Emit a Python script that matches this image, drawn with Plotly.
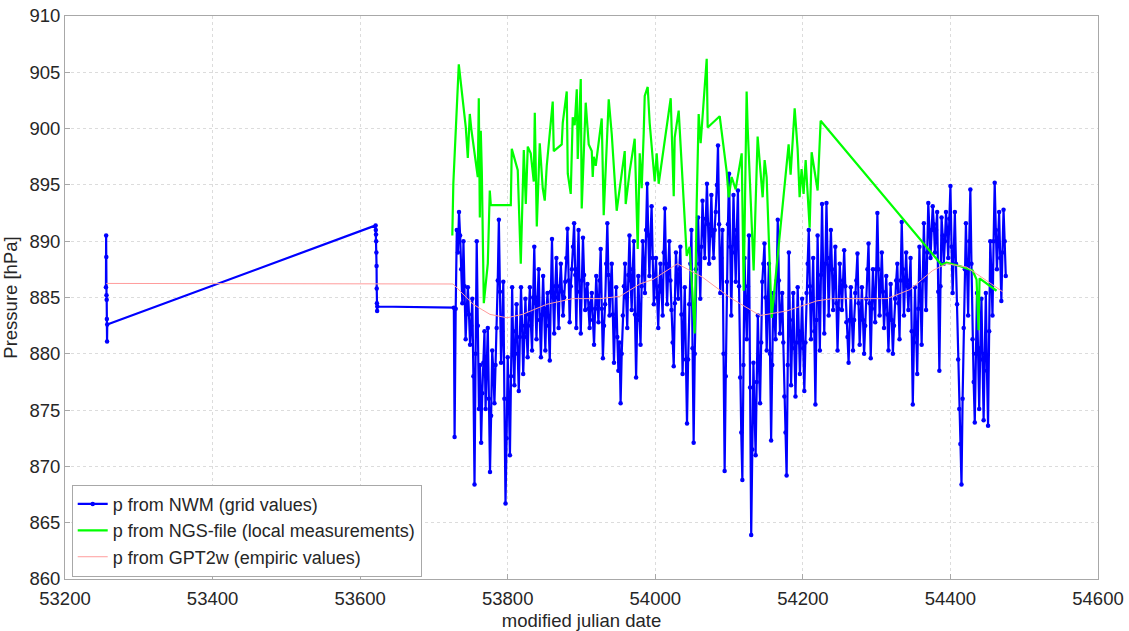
import numpy as np
import plotly.graph_objects as go

# ---------------- data ----------------
# NWM grid values: two early short clusters, then a dense series
nwm_early_mjd = [53255.5, 53255.75, 53256.0, 53256.25, 53256.5, 53256.75, 53257.0, 53257.25,
                 53621.0, 53621.25, 53621.5, 53621.75, 53622.0, 53622.25, 53622.5, 53622.75,
                 53623.0, 53623.25, 53727.0]
nwm_early_p = [885.9, 890.5, 888.6, 885.2, 884.8, 883.1, 881.1, 882.6,
               891.4, 891.0, 890.6, 890.0, 889.0, 887.8, 885.8, 884.5,
               883.8, 884.2, 884.1]

# dense part: values every 3 days from nwm_dense_start ...
nwm_dense_start = 53728.0
nwm_dense_step = 3.0
nwm_dense_p = [
    872.6, 891.0, 892.6, 887.5, 890.0, 881.3, 885.9, 880.8, 884.9, 868.4,
    890.0, 875.1, 872.1, 879.2, 875.1, 882.3, 869.5, 880.3, 875.6, 882.3,
    891.9, 879.2, 886.4, 866.7, 879.7, 871.0, 885.9, 877.2, 884.4, 876.7,
    885.9, 878.2, 884.9, 879.7, 885.9, 880.3, 889.5, 881.3, 887.5, 879.7,
    886.9, 880.3, 885.4, 879.4, 890.2, 881.8, 888.5, 882.3, 888.0, 883.4,
    886.4, 891.1, 882.8, 887.5, 891.6, 882.3, 891.0, 881.8, 890.3, 883.9,
    886.2, 882.3, 885.4, 880.8, 886.9, 882.8, 889.3, 879.6, 884.4, 891.6,
    883.4, 888.0, 879.2, 885.9, 878.5, 875.6, 883.4, 888.0, 882.3, 890.5,
    883.9, 890.0, 877.9, 886.9, 880.8, 890.0, 885.4, 895.1, 886.9, 893.1,
    884.4, 888.5, 882.3, 888.0, 883.4, 892.9, 884.4, 890.0, 883.9, 878.9,
    889.0, 884.9, 889.5, 878.2, 885.9, 873.8, 884.4, 891.0, 872.1, 887.5,
    892.1, 884.9, 893.6, 888.5, 895.1, 888.0, 894.1, 888.5, 892.6, 898.5,
    885.4, 891.0, 869.6, 886.4, 896.0, 883.4, 894.1, 886.4, 894.5, 877.9,
    868.8, 888.5, 881.3, 890.5, 863.9, 879.2, 871.0, 883.4, 875.6, 886.4,
    889.8, 880.3, 888.0, 872.3, 885.4, 881.3, 891.9, 881.8, 885.4, 876.2,
    869.2, 889.0, 877.2, 885.4, 876.2, 885.9, 878.2, 884.9, 876.7, 885.4,
    891.0, 881.3, 888.5, 875.5, 890.5, 880.3, 893.3, 881.8, 893.4, 883.4,
    891.0, 883.9, 889.5, 880.3, 888.0, 883.9, 889.2, 882.8, 879.2, 885.9,
    880.3, 885.4, 888.9, 880.8, 885.9, 880.0, 884.9, 889.8, 879.6, 887.5,
    882.8, 892.5, 883.4, 889.0, 882.3, 886.9, 880.3, 886.2, 880.0, 884.9,
    888.0, 881.3, 891.7, 883.4, 889.0, 883.9, 888.5, 875.5, 885.9, 878.2,
    889.5, 880.8, 891.6, 883.9, 893.4, 888.5, 893.1, 889.0, 892.6, 878.5,
    892.1, 888.0, 892.6, 888.5, 894.9, 885.4, 892.6, 884.4, 875.1, 868.4,
    882.3, 891.6, 883.4, 894.6, 881.3, 873.9, 885.4, 875.1, 884.9, 874.1,
    885.4, 873.6, 890.0, 883.4, 895.2, 887.5, 892.6, 884.7, 892.8, 886.9,
]
# ... and the readings taken half-way between them
nwm_mid_p = [
    884.0, 889.0, 890.5, 884.5, 886.0, 884.0, 883.5, 882.5, 878.0, 880.0,
    882.5, 879.0, 876.5, 882.0, 878.0, 876.0, 874.5, 878.5, 879.0, 886.5,
    885.5, 882.0, 876.0, 872.5, 876.0, 878.0, 880.5, 882.0, 880.0, 881.5,
    882.5, 881.5, 882.0, 883.5, 882.5, 885.0, 884.5, 885.0, 883.0, 883.5,
    883.5, 884.0, 882.5, 885.5, 885.0, 886.0, 885.0, 886.0, 885.5, 885.0,
    888.5, 886.5, 886.0, 889.5, 887.0, 887.5, 885.5, 886.5, 887.0, 885.5,
    884.0, 884.5, 883.0, 884.0, 884.5, 886.5, 884.0, 882.5, 888.0, 887.0,
    886.0, 883.5, 883.0, 881.5, 881.0, 880.0, 886.0, 885.0, 887.0, 886.5,
    887.5, 883.5, 883.0, 883.5, 886.0, 887.5, 891.0, 890.5, 890.5, 888.5,
    886.5, 885.0, 886.0, 885.5, 889.0, 888.0, 887.5, 886.5, 881.0, 884.5,
    887.0, 887.5, 883.5, 882.5, 879.5, 879.5, 888.0, 880.5, 880.0, 890.0,
    888.0, 889.5, 891.0, 892.0, 891.5, 891.0, 890.5, 891.0, 895.0, 891.5,
    888.5, 880.0, 878.0, 891.5, 889.5, 889.0, 890.0, 891.0, 886.0, 873.0,
    879.0, 884.5, 886.0, 877.0, 871.5, 875.0, 877.5, 879.0, 881.0, 888.0,
    885.0, 884.5, 880.0, 879.0, 883.5, 886.5, 886.5, 883.5, 881.0, 873.0,
    879.0, 883.0, 881.5, 880.5, 881.0, 882.0, 881.5, 880.5, 881.0, 888.0,
    886.0, 885.0, 882.0, 883.0, 885.5, 887.0, 887.5, 888.0, 888.5, 887.5,
    887.5, 886.5, 884.5, 884.0, 886.0, 886.5, 886.0, 881.5, 883.0, 883.0,
    883.0, 886.5, 884.5, 883.5, 883.0, 882.5, 887.5, 884.5, 884.0, 885.0,
    887.5, 887.5, 886.0, 885.5, 884.5, 883.5, 883.5, 883.0, 882.5, 886.5,
    884.5, 886.5, 887.5, 886.5, 886.0, 886.5, 882.0, 881.0, 882.0, 884.0,
    885.0, 886.5, 887.5, 889.0, 891.0, 891.0, 891.5, 891.0, 885.5, 886.0,
    890.5, 890.0, 891.0, 892.0, 889.5, 889.0, 888.0, 879.5, 872.0, 876.0,
    887.5, 887.5, 890.0, 888.0, 877.5, 880.0, 880.0, 880.5, 879.5, 880.0,
    878.5, 882.0, 887.0, 890.0, 891.0, 890.0, 888.5, 889.0, 890.0,
]

# NGS-file local measurements
ngs_mjd = [53724.9, 53726.3, 53733.7, 53743.2, 53745.9, 53748.6, 53750.6, 53759.4,
           53760.8, 53762.2, 53763.5, 53764.9, 53767.6, 53773.0, 53775.7, 53777.1,
           53804.2, 53805.5, 53813.6, 53817.7, 53821.8, 53824.5, 53827.2, 53831.2,
           53835.3, 53836.7, 53839.4, 53843.4, 53847.5, 53850.2, 53852.9, 53861.0,
           53862.4, 53873.2, 53874.6, 53880.0, 53881.4, 53885.4, 53888.1, 53890.8,
           53893.6, 53894.9, 53899.0, 53900.3, 53905.7, 53909.8, 53913.9, 53915.2,
           53916.6, 53919.3, 53927.4, 53930.1, 53936.9, 53941.0, 53947.7, 53958.6,
           53959.9, 53965.3, 53972.1, 53976.2, 53978.9, 53981.6, 53984.3, 53985.7,
           53989.7, 53992.4, 53999.2, 54001.9, 54004.6, 54020.9, 54025.0, 54026.3,
           54031.7, 54042.6, 54046.6, 54053.4, 54056.1, 54058.8, 54061.5, 54065.6,
           54069.7, 54071.0, 54087.3, 54096.7, 54099.5, 54103.5, 54108.9, 54117.1,
           54119.8, 54123.8, 54125.2, 54133.3, 54138.7, 54145.5, 54148.2, 54150.9,
           54157.7, 54180.7, 54183.4, 54188.9, 54192.9, 54195.6, 54198.3, 54201.0,
           54203.8, 54209.2, 54211.9, 54220.0, 54222.7, 54224.1, 54388.0, 54394.8,
           54412.4, 54430.0, 54435.4, 54438.1, 54439.5, 54462.5]
ngs_p = [890.5, 895.1, 905.7, 900.1, 897.4, 901.3, 900.0, 895.7,
         902.7, 892.1, 899.8, 896.2, 884.5, 888.0, 894.5, 893.2,
         893.2, 898.2, 896.3, 888.0, 898.1, 893.3, 898.4, 897.8,
         895.3, 901.4, 891.3, 898.7, 894.7, 893.6, 896.7, 902.4,
         898.0, 898.6, 900.5, 903.3, 896.0, 894.2, 901.0, 900.3,
         903.5, 897.3, 904.4, 892.9, 902.3, 898.6, 898.0, 895.7,
         897.5, 896.7, 900.9, 892.3, 902.6, 899.5, 892.7, 898.0,
         893.3, 896.2, 899.1, 889.3, 897.8, 894.7, 899.6, 902.9,
         903.7, 900.5, 895.3, 897.8, 895.1, 902.7, 894.0, 899.2,
         901.6, 888.7, 889.5, 881.8, 893.3, 901.3, 898.7, 902.4,
         906.2, 900.1, 901.1, 896.2, 893.9, 895.7, 894.6, 897.8,
         885.6, 903.3, 900.1, 887.4, 899.3, 893.9, 897.2, 895.7,
         883.2, 898.6, 895.9, 901.8, 898.2, 893.9, 896.4, 894.2,
         897.2, 891.2, 897.9, 894.5, 898.2, 900.7, 887.9, 888.1,
         887.8, 887.4, 886.6, 882.1, 886.7, 885.6]

# GPT2w empirical values
gpt_mjd = [53256, 53622, 53726, 53753, 53776, 53799, 53820, 53853, 53888, 53925,
           53952, 53979, 53997, 54030, 54064, 54101, 54142, 54178, 54219, 54240,
           54286, 54314, 54345, 54376, 54395, 54422, 54449, 54471]
gpt_p = [886.25, 886.2, 886.2, 884.4, 883.5, 883.2, 883.5, 884.4, 884.9, 884.9,
         885.1, 886.2, 886.6, 888.0, 886.8, 885.0, 883.4, 883.8, 884.7, 884.9,
         884.9, 884.9, 885.7, 887.4, 888.0, 887.7, 886.5, 885.5]

x_ticks = [53200, 53400, 53600, 53800, 54000, 54200, 54400, 54600]
y_ticks = [860, 865, 870, 875, 880, 885, 890, 895, 900, 905, 910]

# ---------------- figure ----------------
# interleave the 3-day readings with the half-way readings
dense_p = []
for k, v in enumerate(nwm_dense_p):
    dense_p.append(v)
    if k < len(nwm_mid_p):
        dense_p.append(nwm_mid_p[k])
dense_mjd = nwm_dense_start + (nwm_dense_step / 2.0) * np.arange(len(dense_p))

nwm_mjd = list(nwm_early_mjd) + list(dense_mjd)
nwm_p = list(nwm_early_p) + dense_p

FONT = "Liberation Sans, Arial, Helvetica, sans-serif"
TXT = "#262626"
FS = 18.5
FS_LEG = 18

fig = go.Figure()
fig.add_trace(go.Scatter(
    x=nwm_mjd, y=nwm_p, mode="lines+markers",
    name="p from NWM (grid values)",
    line=dict(color="#0000ff", width=2.2),
    marker=dict(color="#0000ff", size=4.5),
))
fig.add_trace(go.Scatter(
    x=ngs_mjd, y=ngs_p, mode="lines",
    name="p from NGS-file (local measurements)",
    line=dict(color="#00ff00", width=2.2),
))
fig.add_trace(go.Scatter(
    x=gpt_mjd, y=gpt_p, mode="lines",
    name="p from GPT2w (empiric values)",
    line=dict(color="#ff9c9c", width=1),
))

axis_common = dict(
    showline=True, mirror=True, linecolor="#a8a8a8", linewidth=1,
    ticks="inside", ticklen=5, tickcolor="#a8a8a8",
    showgrid=True, gridcolor="#dcdcdc", griddash="dot", gridwidth=1,
    zeroline=False, automargin=False,
    tickfont=dict(family=FONT, size=FS, color=TXT),
)

fig.update_layout(
    width=1129, height=631,
    margin=dict(l=65, r=31, t=16, b=52),
    paper_bgcolor="white", plot_bgcolor="white",
    font=dict(family=FONT, size=FS, color=TXT),
    showlegend=True,
    legend=dict(
        x=0.0065, y=0.004, xanchor="left", yanchor="bottom",
        bgcolor="white", bordercolor="#a8a8a8", borderwidth=1,
        font=dict(family=FONT, size=FS_LEG, color=TXT),
        tracegroupgap=0, itemwidth=30,
    ),
    xaxis=dict(
        range=[53200, 54600], tickvals=x_ticks,
        ticktext=[str(v) for v in x_ticks],
        ticklabelstandoff=3,
        title=dict(text="modified julian date", font=dict(family=FONT, size=FS, color=TXT)),
        **axis_common,
    ),
    yaxis=dict(
        range=[860, 910], tickvals=y_ticks,
        ticktext=[str(v) for v in y_ticks],
        title=dict(text="Pressure [hPa]", font=dict(family=FONT, size=FS, color=TXT)),
        **axis_common,
    ),
)

fig.write_html("out.html")
